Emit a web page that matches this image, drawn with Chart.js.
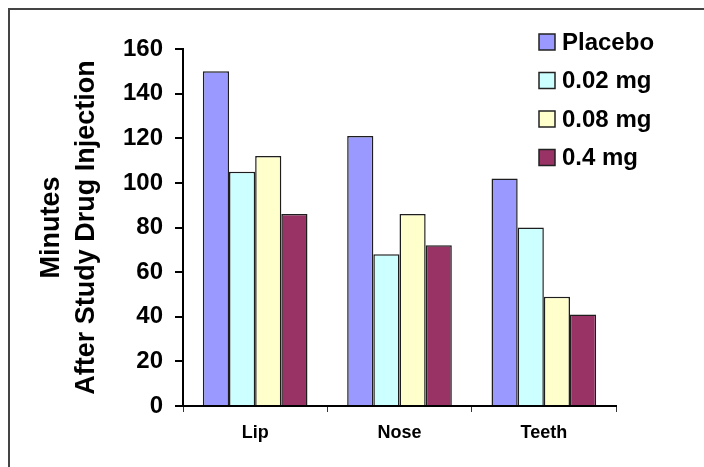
<!DOCTYPE html>
<html>
<head>
<meta charset="utf-8">
<script src="https://cdn.jsdelivr.net/npm/chart.js@4"></script>
<style>
  body { margin: 0; background: #fff; }
</style>
</head>
<body>
<canvas id="chart" width="704" height="467"></canvas>
<script>
const categories = ['Lip', 'Nose', 'Teeth'];
const seriesNames = ['Placebo', '0.02 mg', '0.08 mg', '0.4 mg'];
const placebo = [150, 121, 102];
const dose002 = [105, 68, 80];
const dose008 = [112, 86, 49];
const dose04 = [86, 72, 41];
const yTicks = [0, 20, 40, 60, 80, 100, 120, 140, 160];
const yTitle = ['Minutes', 'After Study Drug Injection'];

const colors = ['#9999ff', '#ccffff', '#ffffcc', '#993366'];
const font = '"Liberation Sans", Arial, sans-serif';

// frame + y title + legend are drawn by hand, legend sits inside the plot
const extras = {
  id: 'extras',
  beforeDraw(chart) {
    const ctx = chart.ctx;
    ctx.save();
    ctx.fillStyle = '#fff';
    ctx.fillRect(0, 0, chart.width, chart.height);
    ctx.strokeStyle = '#444';
    ctx.lineWidth = 2;
    ctx.beginPath();
    ctx.moveTo(9, chart.height);
    ctx.lineTo(9, 9);
    ctx.lineTo(chart.width, 9);
    ctx.stroke();
    ctx.restore();
  },
  afterDraw(chart) {
    const ctx = chart.ctx;
    const area = chart.chartArea;
    ctx.save();
    // y title
    ctx.translate(0, (area.top + area.bottom) / 2);
    ctx.rotate(-Math.PI / 2);
    ctx.fillStyle = '#000';
    ctx.font = 'bold 27px ' + font;
    ctx.textAlign = 'center';
    ctx.textBaseline = 'middle';
    ctx.fillText(yTitle[0], 0, 52);
    ctx.fillText(yTitle[1], 0, 87);
    ctx.restore();

    // legend
    ctx.save();
    ctx.font = 'bold 24px ' + font;
    ctx.textBaseline = 'middle';
    chart.data.datasets.forEach(function (ds, i) {
      const cy = 42 + i * 38.5;
      ctx.fillStyle = ds.backgroundColor;
      ctx.fillRect(539, cy - 8, 16, 16);
      ctx.strokeStyle = '#222';
      ctx.lineWidth = 1.5;
      ctx.strokeRect(539, cy - 8, 16, 16);
      ctx.fillStyle = '#000';
      ctx.fillText(ds.label, 562, cy + 1);
    });
    ctx.restore();
  }
};

const datasets = [placebo, dose002, dose008, dose04].map(function (vals, i) {
  return {
    label: seriesNames[i],
    data: vals,
    backgroundColor: colors[i],
    borderColor: '#1e1e1e',
    borderWidth: 1.5,
    categoryPercentage: 0.725,
    barPercentage: 1.0
  };
});

new Chart(document.getElementById('chart'), {
  type: 'bar',
  data: {
    labels: categories,
    datasets: datasets
  },
  options: {
    responsive: false,
    animation: false,
    layout: {
      padding: { top: 49, right: 88, left: 0, bottom: 0 }
    },
    plugins: {
      legend: { display: false },
      tooltip: { enabled: false }
    },
    scales: {
      x: {
        afterFit: function (scale) { scale.height = 61; },
        grid: {
          offset: true,
          drawOnChartArea: false,
          drawTicks: true,
          tickLength: 6,
          color: '#333',
          lineWidth: 1
        },
        border: { color: '#000', width: 2 },
        ticks: {
          color: '#000',
          padding: 10,
          font: { family: font, size: 18, weight: 'bold' }
        }
      },
      y: {
        min: 0,
        max: 160,
        afterFit: function (scale) { scale.width = 183; },
        afterBuildTicks: function (scale) {
          scale.ticks = yTicks.map(function (v) { return { value: v }; });
        },
        grid: {
          drawOnChartArea: false,
          drawTicks: true,
          tickLength: 8,
          color: '#000',
          lineWidth: 2
        },
        border: { color: '#000', width: 2 },
        ticks: {
          color: '#000',
          padding: 12,
          font: { family: font, size: 24, weight: 'bold' }
        }
      }
    }
  },
  plugins: [extras]
});
</script>
</body>
</html>
